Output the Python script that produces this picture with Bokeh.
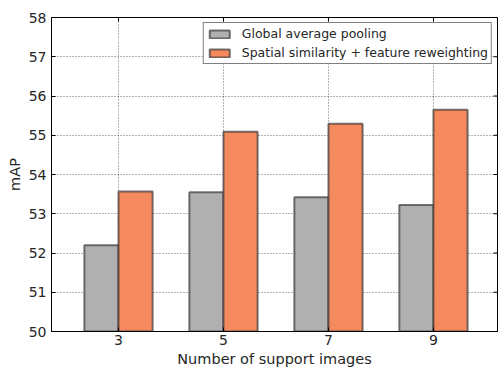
import math
from bokeh.plotting import figure
from bokeh.models import (ColumnDataSource, FixedTicker, Range1d, Legend, LegendItem)
from bokeh.embed import file_html
from bokeh.resources import INLINE

support = [3, 5, 7, 9]
global_avg = [52.2, 53.55, 53.42, 53.22]
spatial = [53.57, 55.09, 55.29, 55.65]
series_names = ["Global average pooling", "Spatial similarity + feature reweighting"]
y_ticks = [50, 51, 52, 53, 54, 55, 56, 57, 58]

bar_w = 0.65
FONT = "DejaVu Sans"
TXT = "#262626"
X0, X1, Y0, Y1 = 1.724, 10.22, 50, 58

p = figure(width=498, height=368, output_backend="svg", toolbar_location=None,
           x_range=Range1d(X0, X1), y_range=Range1d(Y0, Y1),
           min_border_left=51, min_border_right=1, min_border_top=17, min_border_bottom=37)
p.frame_width = 446
p.frame_height = 314

src = ColumnDataSource(dict(
    xg=[s - bar_w / 2 for s in support],
    xs=[s + bar_w / 2 for s in support],
    g=global_avg, s=spatial))

r1 = p.vbar(x="xg", top="g", bottom=Y0, width=bar_w, source=src,
            fill_color="#b0b0b0", line_color="#3a3a3a", line_alpha=0.7, line_width=2)
r2 = p.vbar(x="xs", top="s", bottom=Y0, width=bar_w, source=src,
            fill_color="#f58a5f", line_color="#3a3a3a", line_alpha=0.7, line_width=2)

for ax in (p.xaxis[0], p.yaxis[0]):
    ax.major_tick_in = 4
    ax.major_tick_out = 0
    ax.minor_tick_line_color = None
    ax.axis_line_color = "black"
    ax.major_tick_line_color = "black"
    ax.major_label_text_font = FONT
    ax.major_label_text_font_size = "14px"
    ax.major_label_text_color = TXT
    ax.axis_label_text_font = FONT
    ax.axis_label_text_font_size = "14.5px"
    ax.axis_label_text_font_style = "normal"
    ax.axis_label_text_color = TXT

p.xaxis.ticker = FixedTicker(ticks=support)
p.yaxis.ticker = FixedTicker(ticks=y_ticks)
p.xaxis.axis_label = "Number of support images"
p.yaxis.axis_label = "mAP"
p.xaxis.major_label_standoff = 3
p.xaxis.axis_label_standoff = 3
p.yaxis.major_label_standoff = 5
p.yaxis.axis_label_standoff = 3

# inward ticks on the right and top spines
p.ray(x=[X1] * len(y_ticks), y=y_ticks, length=4, length_units="screen",
      angle=math.pi, line_color="black", line_width=1)
p.ray(x=support, y=[Y1] * len(support), length=4, length_units="screen",
      angle=-math.pi / 2, line_color="black", line_width=1)

p.xgrid.ticker = FixedTicker(ticks=support)
p.ygrid.ticker = FixedTicker(ticks=y_ticks)
for g in (p.xgrid[0], p.ygrid[0]):
    g.grid_line_color = "black"
    g.grid_line_alpha = 0.6
    g.grid_line_dash = "1 2"
    g.grid_line_width = 1

p.outline_line_color = "black"
p.outline_line_alpha = 1
p.background_fill_color = "white"
p.border_fill_color = "white"

legend = Legend(items=[LegendItem(label=series_names[0], renderers=[r1]),
                       LegendItem(label=series_names[1], renderers=[r2])],
                location="top_right")
legend.margin = 5
legend.padding = 3
legend.spacing = 4
legend.glyph_width = 25
legend.glyph_height = 10
legend.label_height = 14
legend.label_standoff = 10
legend.label_text_font = FONT
legend.label_text_font_size = "12.5px"
legend.label_text_color = TXT
legend.border_line_color = "black"
legend.border_line_width = 1
legend.background_fill_alpha = 1
p.add_layout(legend, "center")

open("out.html", "w").write(file_html(p, INLINE))
